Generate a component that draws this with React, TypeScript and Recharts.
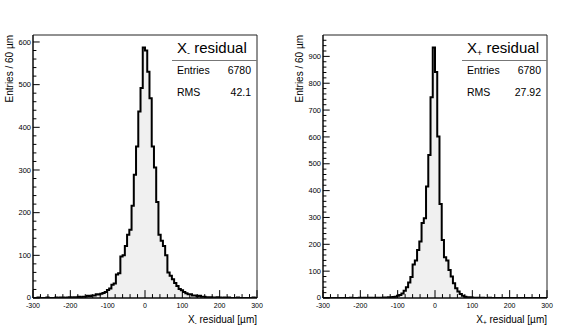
import React from 'react';
import { AreaChart, Area, XAxis, YAxis, ReferenceArea } from 'recharts';

const BIN_LOW = -300;
const BIN_WIDTH = 6;

const X_TICKS = [-300, -280, -260, -240, -220, -200, -180, -160, -140, -120, -100, -80, -60, -40, -20, 0, 20, 40, 60, 80, 100, 120, 140, 160, 180, 200, 220, 240, 260, 280, 300];
const X_LABELS = [-300, -200, -100, 0, 100, 200, 300];

const LEFT_Y_TICKS = [0, 20, 40, 60, 80, 100, 120, 140, 160, 180, 200, 220, 240, 260, 280, 300, 320, 340, 360, 380, 400, 420, 440, 460, 480, 500, 520, 540, 560, 580, 600];
const LEFT_Y_LABELS = [0, 100, 200, 300, 400, 500, 600];
const RIGHT_Y_TICKS = [0, 20, 40, 60, 80, 100, 120, 140, 160, 180, 200, 220, 240, 260, 280, 300, 320, 340, 360, 380, 400, 420, 440, 460, 480, 500, 520, 540, 560, 580, 600, 620, 640, 660, 680, 700, 720, 740, 760, 780, 800, 820, 840, 860, 880, 900, 920, 940, 960];
const RIGHT_Y_LABELS = [0, 100, 200, 300, 400, 500, 600, 700, 800, 900];

// X_- residual, 100 bins of 6 um from -300 to 300
const LEFT_COUNTS = [
  0, 0, 1, 0, 0, 0, 1, 0, 0, 0,
  1, 0, 1, 1, 0, 1, 2, 1, 2, 2,
  3, 2, 3, 3, 5, 4, 6, 6, 9, 8,
  10, 12, 14, 19, 22, 31, 34, 55, 58, 97,
  100, 122, 148, 160, 216, 289, 355, 437, 492, 587,
  580, 530, 468, 355, 306, 225, 148, 134, 122, 100,
  60, 52, 44, 35, 28, 21, 18, 14, 11, 9,
  9, 6, 6, 4, 5, 3, 3, 2, 2, 2,
  1, 1, 2, 1, 0, 1, 0, 1, 0, 0,
  0, 1, 0, 0, 0, 0, 0, 0, 1, 0,
];

// X_+ residual
const RIGHT_COUNTS = [
  0, 0, 0, 0, 0, 0, 0, 0, 0, 0,
  0, 0, 1, 0, 0, 0, 1, 0, 1, 0,
  1, 1, 0, 1, 1, 1, 1, 2, 2, 3,
  3, 4, 5, 8, 11, 17, 27, 40, 58, 78,
  125, 140, 179, 210, 279, 297, 415, 533, 748, 933,
  842, 602, 350, 216, 152, 140, 104, 80, 55, 36,
  24, 15, 8, 5, 3, 3, 2, 1, 1, 1,
  0, 1, 0, 0, 1, 0, 0, 0, 0, 0,
  0, 0, 0, 0, 0, 0, 0, 0, 0, 0,
  0, 0, 0, 0, 0, 0, 0, 0, 0, 0,
];

const LEFT_STATS = { entries: '6780', rms: '42.1' };
const RIGHT_STATS = { entries: '6780', rms: '27.92' };

const FONT = '"Liberation Sans", Arial, Helvetica, sans-serif';

function buildTable(counts: number[]) {
  const rows = counts.map((c, i) => ({ x: BIN_LOW + i * BIN_WIDTH, count: c }));
  rows.push({ x: BIN_LOW + counts.length * BIN_WIDTH, count: counts[counts.length - 1] });
  return rows;
}

const renderXTick = (props: any) => {
  const { x, y, payload } = props;
  const major = X_LABELS.includes(payload.value);
  return (
    <g key={`xt-${payload.value}`}>
      <line x1={x} x2={x} y1={y} y2={y - (major ? 7.9 : 3.9)} stroke="#000" strokeWidth={1} />
      {major && (
        <text x={x} y={y + 10} textAnchor="middle" fontSize={7} fontFamily={FONT} fill="#000">
          {payload.value}
        </text>
      )}
    </g>
  );
};

const makeYTick = (labels: number[]) => (props: any) => {
  const { x, y, payload } = props;
  const major = labels.includes(payload.value);
  return (
    <g key={`yt-${payload.value}`}>
      <line x1={x} x2={x + (major ? 6.7 : 3.4)} y1={y} y2={y} stroke="#000" strokeWidth={1} />
      {major && (
        <text x={x - 2} y={y + (payload.value === 0 ? 1.5 : 2.6)} textAnchor="end" fontSize={7.5} fontFamily={FONT} fill="#000">
          {payload.value}
        </text>
      )}
    </g>
  );
};

function Hist({ counts, yTicks, yLabels, width }: { counts: number[]; yTicks: number[]; yLabels: number[]; width: number }) {
  const data = buildTable(counts);
  const yMax = Math.max(...counts) * 1.05;
  const renderYTick = makeYTick(yLabels);
  return (
    <AreaChart width={width} height={335} data={data} margin={{ top: 35, right: width - 257, bottom: 0, left: 0 }}>
      <Area
        type="stepAfter"
        dataKey="count"
        stroke="#000"
        strokeWidth={2}
        strokeLinejoin="miter"
        fill="#f0f0f0"
        fillOpacity={1}
        dot={false}
        activeDot={false}
        isAnimationActive={false}
      />
      <ReferenceArea x1={-300} x2={300} y1={0} y2={yMax} fill="none" stroke="#222" strokeWidth={1} fillOpacity={0} />
      <XAxis
        dataKey="x"
        type="number"
        domain={[-300, 300]}
        ticks={X_TICKS}
        interval={0}
        height={37}
        tickSize={0}
        tickMargin={0}
        tickLine={false}
        axisLine={{ stroke: '#000' }}
        tick={renderXTick}
        allowDataOverflow
      />
      <YAxis
        type="number"
        domain={[0, yMax]}
        ticks={yTicks}
        interval={0}
        width={33}
        tickSize={0}
        tickMargin={0}
        tickLine={false}
        axisLine={{ stroke: '#000' }}
        tick={renderYTick}
        allowDataOverflow
      />
    </AreaChart>
  );
}

function StatsBox({ ox, sub, stats }: { ox: number; sub: string; stats: { entries: string; rms: string } }) {
  return (
    <g fontFamily={FONT} fill="#000">
      <text x={ox + 177} y={53} fontSize={15} style={{ whiteSpace: 'pre' }}>
        X<tspan fontSize={9} dy={3}>{sub}</tspan>
        <tspan dy={-3}>{' residual'}</tspan>
      </text>
      <line x1={ox + 172} x2={ox + 257} y1={60.5} y2={60.5} stroke="#777" strokeWidth={1} />
      <text x={ox + 177} y={74} fontSize={10.5}>Entries</text>
      <text x={ox + 251} y={74} fontSize={10.5} textAnchor="end">{stats.entries}</text>
      <text x={ox + 177} y={96} fontSize={10.5}>RMS</text>
      <text x={ox + 251} y={96} fontSize={10.5} textAnchor="end">{stats.rms}</text>
    </g>
  );
}

function AxisTitles({ ox, sub }: { ox: number; sub: string }) {
  return (
    <g fontFamily={FONT} fill="#000">
      <text
        x={ox + 12.5}
        y={35}
        fontSize={10}
        textAnchor="end"
        transform={`rotate(-90 ${ox + 12.5} 35)`}
        style={{ whiteSpace: 'pre' }}
      >
        {'Entries / 60 \u00b5m'}
      </text>
      <text x={ox + 257} y={322.5} fontSize={10} textAnchor="end" style={{ whiteSpace: 'pre' }}>
        X<tspan fontSize={6.5} dy={2}>{sub}</tspan>
        <tspan dy={-2}>{' residual [\u00b5m]'}</tspan>
      </text>
    </g>
  );
}

export default function App() {
  return (
    <div style={{ position: 'absolute', left: 0, top: 0, width: 581, height: 335, background: '#fff', overflow: 'hidden' }}>
      <div style={{ position: 'absolute', left: 0, top: 0 }}>
        <Hist counts={LEFT_COUNTS} yTicks={LEFT_Y_TICKS} yLabels={LEFT_Y_LABELS} width={290} />
      </div>
      <div style={{ position: 'absolute', left: 290, top: 0 }}>
        <Hist counts={RIGHT_COUNTS} yTicks={RIGHT_Y_TICKS} yLabels={RIGHT_Y_LABELS} width={290} />
      </div>
      <svg width={581} height={335} style={{ position: 'absolute', left: 0, top: 0, pointerEvents: 'none' }}>
        <StatsBox ox={0} sub="-" stats={LEFT_STATS} />
        <StatsBox ox={290} sub="+" stats={RIGHT_STATS} />
        <AxisTitles ox={0} sub="-" />
        <AxisTitles ox={290} sub="+" />
      </svg>
    </div>
  );
}
